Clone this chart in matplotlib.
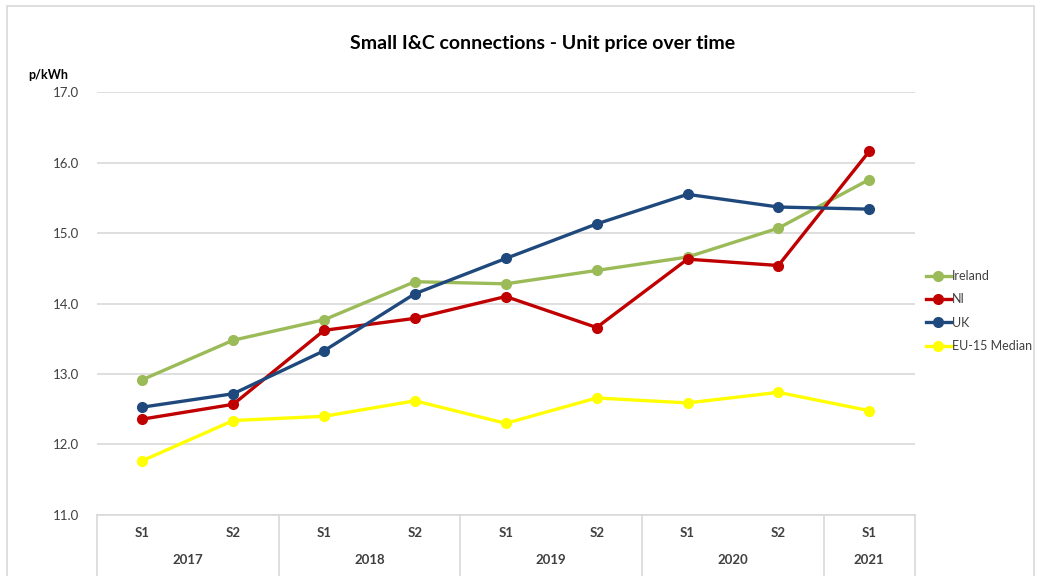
import numpy as np
import matplotlib
matplotlib.use("Agg")
import matplotlib.pyplot as plt
from matplotlib.patches import Rectangle
import matplotlib.transforms as mtransforms

plt.rcParams["font.family"] = ["Lato", "DejaVu Sans"]

halves = ["S1", "S2", "S1", "S2", "S1", "S2", "S1", "S2", "S1"]
years = ["2017", "2018", "2019", "2020", "2021"]
halves_per_year = [2, 2, 2, 2, 1]

ireland = [12.92, 13.48, 13.77, 14.31, 14.28, 14.47, 14.66, 15.07, 15.76]
ni = [12.36, 12.57, 13.62, 13.79, 14.10, 13.66, 14.63, 14.54, 16.16]
uk = [12.53, 12.72, 13.33, 14.14, 14.64, 15.13, 15.55, 15.37, 15.34]
eu15 = [11.77, 12.34, 12.40, 12.62, 12.30, 12.66, 12.59, 12.74, 12.48]

series = [
    ("Ireland", ireland, "#9BBB59"),
    ("NI", ni, "#C00000"),
    ("UK", uk, "#1F497D"),
    ("EU-15 Median", eu15, "#FFFF00"),
]

fig = plt.figure(figsize=(10.37, 5.76), dpi=100)
ax = fig.add_axes([0.0935, 0.106, 0.7885, 0.734])

x = np.arange(len(halves))
for name, vals, col in series:
    ax.plot(x, vals, "o-", color=col, linewidth=2.4, markersize=7, label=name, zorder=3)

ax.set_ylim(11, 17)
ax.set_xlim(-0.5, len(halves) - 0.5)
ax.set_yticks(np.arange(11, 17.5, 1.0))
ax.set_yticklabels([f"{v:.1f}" for v in np.arange(11, 17.5, 1.0)], fontsize=9.5, color="#404040")
ax.grid(axis="y", color="#D9D9D9", linewidth=1.2)
ax.set_axisbelow(True)
for s in ["top", "right", "left"]:
    ax.spines[s].set_visible(False)
ax.spines["bottom"].set_color("#D9D9D9")
ax.spines["bottom"].set_linewidth(1.2)
ax.tick_params(axis="both", length=0, pad=13)

# ── multi-level category axis ──
ax.set_xticks(x)
ax.set_xticklabels([])
trans = mtransforms.blended_transform_factory(ax.transData, ax.transAxes)
for xi, h in zip(x, halves):
    ax.text(xi, -0.043, h, transform=trans, ha="center", va="center",
            fontsize=9.5, fontweight="bold", color="#404040")

bounds = np.concatenate([[0], np.cumsum(halves_per_year)]) - 0.5
for i, yr in enumerate(years):
    mid = (bounds[i] + bounds[i + 1]) / 2
    ax.text(mid, -0.106, yr, transform=trans, ha="center", va="center",
            fontsize=9.5, fontweight="bold", color="#404040")
for b in bounds:
    ax.plot([b, b], [0, -0.15], transform=trans, color="#D9D9D9",
            linewidth=1.2, clip_on=False)

fig.text(0.523, 0.925, "Small I&C connections - Unit price over time",
         ha="center", va="center", fontsize=14, fontweight="bold", color="#000000")
fig.text(0.027, 0.869, "p/kWh", ha="left", va="center", fontsize=9,
         fontweight="bold", color="#000000")

fig.legend(loc="center left", bbox_to_anchor=(0.889, 0.46), frameon=False,
           fontsize=9, handlelength=2.0, handletextpad=0.1, labelspacing=0.9,
           labelcolor="#404040", borderaxespad=0, borderpad=0.3)

fig.patches.append(Rectangle((0.007, -0.01), 0.99, 1.0, transform=fig.transFigure,
                             fill=False, edgecolor="#D9D9D9", linewidth=1.2))

fig.savefig("out.png", dpi=100)
